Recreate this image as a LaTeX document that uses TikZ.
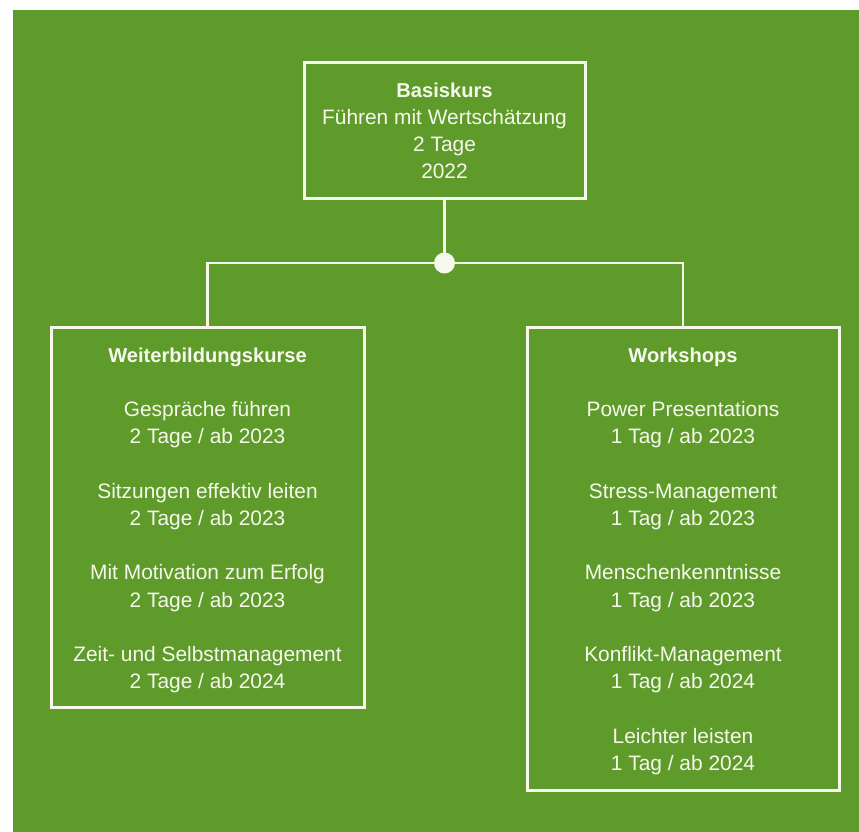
\documentclass[tikz,border=0pt]{standalone}
\usepackage{fontspec}
\setmainfont{Liberation Sans}
\definecolor{bggreen}{RGB}{94,155,43}
\definecolor{lineW}{RGB}{246,248,236}
\newcommand{\boxtitle}[1]{{\fontsize{20.1}{27.2}\selectfont\bfseries #1}}
\tikzset{
  boxframe/.style={draw=lineW, line width=3pt, rectangle, inner sep=0pt, outer sep=0pt},
  conn/.style={draw=lineW, line width=2.5pt},
  boxtext/.style={anchor=north, align=center, inner sep=0pt, text=lineW,
    font=\fontsize{20.9}{27.2}\selectfont},
  junction/.style={circle, fill=lineW, minimum size=21pt, inner sep=0pt}
}
\begin{document}
\begin{tikzpicture}[x=1pt,y=-1pt]
\useasboundingbox (0,0) rectangle (859,832);
\fill[white] (0,0) rectangle (859,832);
\fill[bggreen] (13,10) rectangle (859,832);

% boxes
\node[boxframe, minimum width=281pt, minimum height=135pt] (basis) at (444.5,130.5) {};
\node[boxframe, minimum width=313pt, minimum height=380pt] (wbk) at (207.5,517) {};
\node[boxframe, minimum width=312pt, minimum height=463pt] (ws) at (683,558.5) {};
\node[junction] (junc) at (444.5,263) {};

% connectors
\draw[conn] (basis.south) -- (junc.center);
\draw[conn] (wbk.north) |- (junc.center) -| (ws.north);

% texts
\node[boxtext] (tbasis) at (444.5,77.96) {\strut\boxtitle{Basiskurs}\\
  Führen mit Wertschätzung\\
  2 Tage\\
  2022};

\node[boxtext] (twbk) at (207.5,342.96) {\strut\boxtitle{Weiterbildungskurse}\\[27.2pt]
  Gespräche führen\\
  2 Tage / ab 2023\\[27.2pt]
  Sitzungen effektiv leiten\\
  2 Tage / ab 2023\\[27.2pt]
  Mit Motivation zum Erfolg\\
  2 Tage / ab 2023\\[27.2pt]
  Zeit- und Selbstmanagement\\
  2 Tage / ab 2024};

\node[boxtext] (tws) at (683,342.96) {\strut\boxtitle{Workshops}\\[27.2pt]
  Power Presentations\\
  1 Tag / ab 2023\\[27.2pt]
  Stress-Management\\
  1 Tag / ab 2023\\[27.2pt]
  Menschenkenntnisse\\
  1 Tag / ab 2023\\[27.2pt]
  Konflikt-Management\\
  1 Tag / ab 2024\\[27.2pt]
  Leichter leisten\\
  1 Tag / ab 2024};
\end{tikzpicture}
\end{document}
